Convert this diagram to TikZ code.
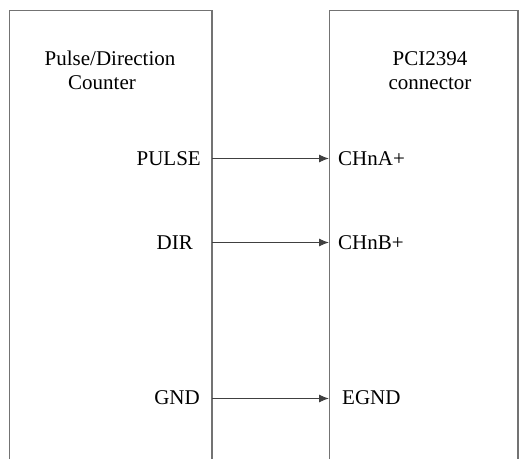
\documentclass[tikz,border=0pt]{standalone}
\usepackage{fontspec}
\setmainfont{Liberation Serif}
\usetikzlibrary{arrows.meta,positioning}

\begin{document}
\begin{tikzpicture}[x=1pt,y=-1pt,font=\fontsize{21}{24}\selectfont,
        box/.style={draw=black!55,line width=1.4pt},
        pin/.style={inner sep=0pt,anchor=base east},
        port/.style={inner sep=0pt,anchor=base west},
        title/.style={inner sep=0pt,anchor=base},
        wire/.style={draw=black!75,line width=1pt,-{Latex[length=10pt,width=8pt]}}]
        \useasboundingbox (0,0) rectangle (528,459);
        % the two blocks, open at the bottom
        \draw[box] (9.5,459) -- (9.5,10.5) -- (212,10.5) -- (212,459);
        \draw[box] (329.5,459) -- (329.5,10.5) -- (518,10.5) -- (518,459);
        \node   (t1) [title] at (110,65)   {Pulse/Direction};
        \node   (t2) [title] at (102,89)   {Counter};
        \node   (t3) [title] at (430,65)   {PCI2394};
        \node   (t4) [title] at (430,89)   {connector};
        \node   (pulse) [pin] at (201,165.5)   {PULSE};
        \node   (dir) [pin] at (193,249.5)   {DIR};
        \node   (gnd) [pin] at (200,404.5)   {GND};
        \node   (cha) [port] at (338,165.5)   {CHnA+};
        \node   (chb) [port] at (338,249.5)   {CHnB+};
        \node   (egnd) [port] at (342,404.5)   {EGND};
        \coordinate (o1) at (212,158.5);
        \coordinate (o2) at (212,242.5);
        \coordinate (o3) at (212,398.5);
        \coordinate (i1) at (329,158.5);
        \coordinate (i2) at (329,242.5);
        \coordinate (i3) at (329,398.5);
        \draw[wire] (o1) -- (i1);
        \draw[wire] (o2) -- (i2);
        \draw[wire] (o3) -- (i3);
\end{tikzpicture}
\end{document}
